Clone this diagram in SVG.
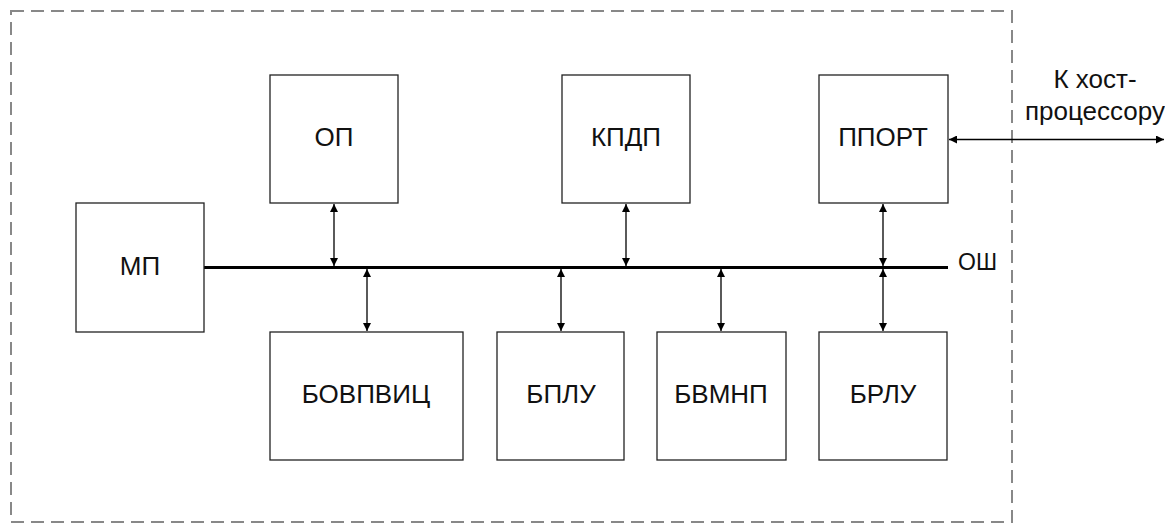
<svg xmlns="http://www.w3.org/2000/svg" width="1165" height="524" viewBox="0 0 1165 524">
<style>
.box{fill:#fff;stroke:#222;stroke-width:1.3}
.lbl{font-family:"Liberation Sans",Arial,sans-serif;font-size:26px;fill:#111;text-anchor:middle}
.con{stroke:#000;stroke-width:1.3;fill:none}
</style>
<defs>
<marker id="ah" viewBox="0 0 10 10" refX="10" refY="5" markerWidth="8" markerHeight="8" markerUnits="userSpaceOnUse" orient="auto-start-reverse">
<path d="M0,0 L10,5 L0,10 z" fill="#000"/>
</marker>
</defs>
<rect x="11" y="11" width="1001" height="511" fill="none" stroke="#888" stroke-width="2" stroke-dasharray="13 7"/>
<g id="connectors">
<line x1="204" y1="267.5" x2="948" y2="267.5" stroke="#000" stroke-width="3"/>
<line class="con" x1="334" y1="204" x2="334" y2="266" marker-start="url(#ah)" marker-end="url(#ah)"/>
<line class="con" x1="626" y1="204" x2="626" y2="266" marker-start="url(#ah)" marker-end="url(#ah)"/>
<line class="con" x1="883" y1="204" x2="883" y2="266" marker-start="url(#ah)" marker-end="url(#ah)"/>
<line class="con" x1="367" y1="269" x2="367" y2="331" marker-start="url(#ah)" marker-end="url(#ah)"/>
<line class="con" x1="561" y1="269" x2="561" y2="331" marker-start="url(#ah)" marker-end="url(#ah)"/>
<line class="con" x1="721" y1="269" x2="721" y2="331" marker-start="url(#ah)" marker-end="url(#ah)"/>
<line class="con" x1="883" y1="269" x2="883" y2="331" marker-start="url(#ah)" marker-end="url(#ah)"/>
<line class="con" x1="949" y1="139.5" x2="1164" y2="139.5" marker-start="url(#ah)" marker-end="url(#ah)"/>
</g>
<g id="op"><rect class="box" x="270" y="75" width="128" height="128"/><text class="lbl" x="334" y="146">ОП</text></g>
<g id="kpdp"><rect class="box" x="562" y="75" width="128" height="128"/><text class="lbl" x="626" y="146">КПДП</text></g>
<g id="pport"><rect class="box" x="819" y="75" width="129" height="128"/><text class="lbl" x="883" y="146">ППОРТ</text></g>
<g id="mp"><rect class="box" x="76" y="203" width="128" height="129"/><text class="lbl" x="140" y="275">МП</text></g>
<g id="bovpvic"><rect class="box" x="270" y="332" width="193" height="128"/><text class="lbl" x="366" y="403">БОВПВИЦ</text></g>
<g id="bplu"><rect class="box" x="497" y="332" width="127" height="128"/><text class="lbl" x="561" y="403">БПЛУ</text></g>
<g id="bvmnp"><rect class="box" x="657" y="332" width="129" height="128"/><text class="lbl" x="721" y="403">БВМНП</text></g>
<g id="brlu"><rect class="box" x="819" y="332" width="128" height="128"/><text class="lbl" x="883" y="403">БРЛУ</text></g>
<g id="osh"><text x="958" y="270" font-family="Liberation Sans,Arial,sans-serif" font-size="23" fill="#111">ОШ</text></g>
<g id="host"><text class="lbl" x="1095" y="88">К хост-</text><text class="lbl" x="1095" y="120">процессору</text></g>
</svg>
